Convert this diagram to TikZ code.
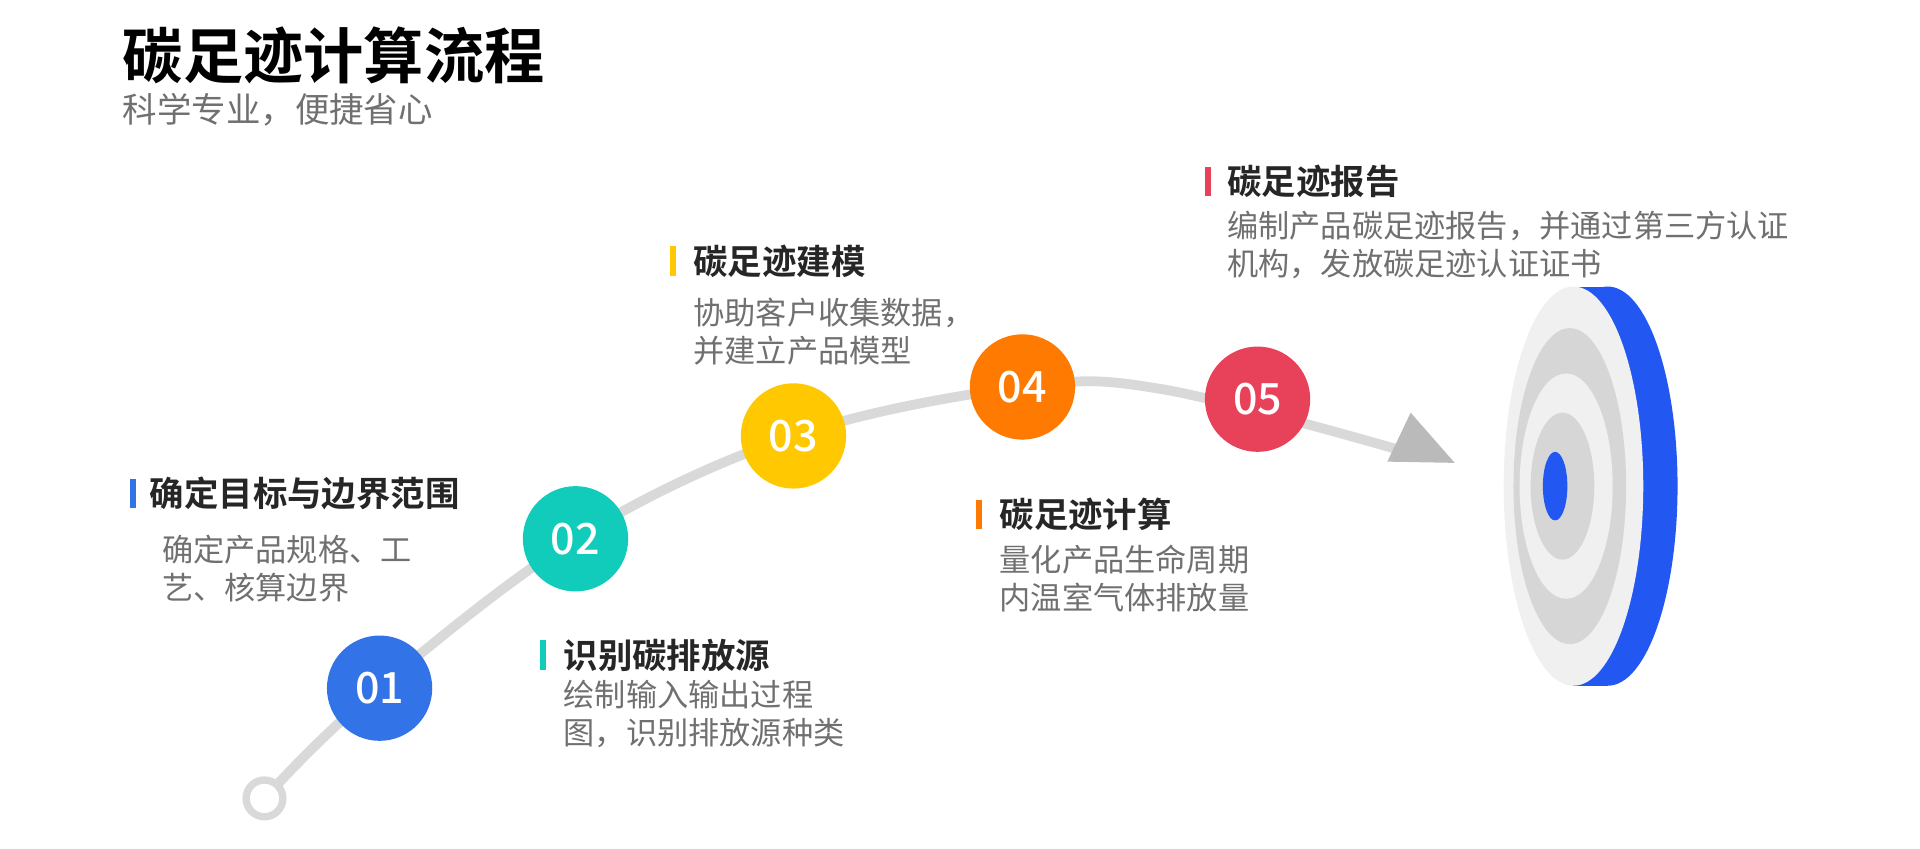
\documentclass[tikz,border=0pt]{standalone}
\usepackage{fontspec}
\newfontfamily\cjk{Noto Sans CJK SC}[BoldFont={Noto Sans CJK SC Bold}]
\newfontfamily\cjkmed{Noto Sans CJK SC Medium}
\definecolor{cone}{HTML}{3373E8}
\definecolor{ctwo}{HTML}{12CCBB}
\definecolor{cthree}{HTML}{FFC800}
\definecolor{cfour}{HTML}{FF7A00}
\definecolor{cfive}{HTML}{E8415A}
\definecolor{tblue}{HTML}{2257F2}
\definecolor{txtgray}{HTML}{707070}
\definecolor{linegray}{HTML}{D9D9D9}
\tikzset{
  stepnum/.style={circle,minimum size=17.2mm,inner sep=0pt,text=white,font=\cjkmed\fontsize{20}{20}\selectfont},
  head/.style={anchor=west,inner sep=0pt,font=\cjk\bfseries\fontsize{16}{16}\selectfont,text=black!85},
  body/.style={anchor=north west,inner sep=0pt,align=left,font=\cjk\fontsize{14.5}{17.6}\selectfont,text=txtgray},
}
\begin{document}
\begin{tikzpicture}[x=0.2mm,y=-0.2mm]
    \useasboundingbox (0,0) rectangle (1568,693);
    % title
    \node[anchor=west,inner sep=0pt,font=\cjk\bfseries\fontsize{28}{28}\selectfont] (title) at (100,45) {碳足迹计算流程};
    \node[anchor=west,inner sep=0pt,font=\cjk\fontsize{16}{16}\selectfont,text=txtgray] (subtitle) at (100,90) {科学专业，便捷省心};
    % path
    \draw[linegray,line width=1.6mm,line cap=round] plot[smooth,tension=0.6] coordinates{(216,652) (300,570) (470,440) (648,356) (835,316) (950,318) (1145,368)};
    \fill[black!27] (1188,378) -- (1133,377) -- (1152,337) -- cycle;
    \draw[linegray,line width=1.2mm,fill=white] (216,652) circle (15);
    % steps
    \node[stepnum,fill=cone] (s1) at (310,562) {01};
    \node[stepnum,fill=ctwo] (s2) at (470,440) {02};
    \node[stepnum,fill=cthree] (s3) at (648,356) {03};
    \node[stepnum,fill=cfour] (s4) at (835,316) {04};
    \node[stepnum,fill=cfive] (s5) at (1027,326) {05};
    % labels
    \fill[cone] (106,391) rectangle (111,415);
    \node[head] (h1) at (122,403) {确定目标与边界范围};
    \node[body] (b1) at (132,437) {确定产品规格、工\\艺、核算边界};
    \fill[ctwo] (441,523) rectangle (446,547);
    \node[head] (h2) at (460,535) {识别碳排放源};
    \node[body] (b2) at (460,555) {绘制输入输出过程\\图，识别排放源种类};
    \fill[cthree] (547,201) rectangle (552,225);
    \node[head] (h3) at (566,213) {碳足迹建模};
    \node[body] (b3) at (566,243) {协助客户收集数据，\\并建立产品模型};
    \fill[cfour] (797,408) rectangle (802,432);
    \node[head] (h4) at (816,420) {碳足迹计算};
    \node[body] (b4) at (816,445) {量化产品生命周期\\内温室气体排放量};
    \fill[cfive] (984,136) rectangle (989,160);
    \node[head] (h5) at (1002,148) {碳足迹报告};
    \node[body] (b5) at (1002,172) {编制产品碳足迹报告，并通过第三方认证\\机构，发放碳足迹认证证书};
    % target
    \fill[tblue] (1313,397) ellipse (57 and 163);
    \fill[tblue] (1285,234) rectangle (1313,560);
    \fill[black!6] (1285,397) ellipse (57 and 163);
    \fill[black!16] (1282,397) ellipse (46 and 129);
    \fill[black!6] (1279,397) ellipse (38 and 92);
    \fill[black!16] (1276,397) ellipse (26 and 60);
    \fill[tblue] (1270,397) ellipse (10 and 28);
\end{tikzpicture}
\end{document}
